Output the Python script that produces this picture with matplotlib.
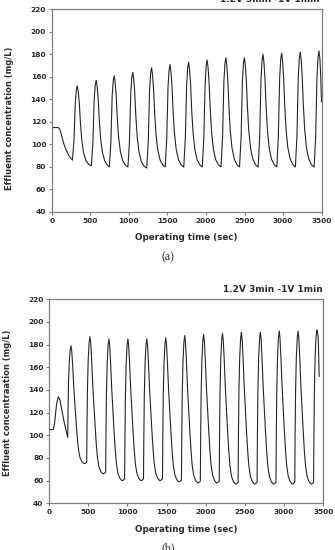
import matplotlib
matplotlib.use("Agg")
import matplotlib.pyplot as plt
from matplotlib.ticker import MultipleLocator

# ---------------- data ----------------
title = "1.2V 3min -1V 1min"
xlabel = "Operating time (sec)"
ylabel_a = "Effluemt concentration (mg/L)"
ylabel_b = "Effluent concentraation (mg/L)"
xticks = [0, 500, 1000, 1500, 2000, 2500, 3000, 3500]
yticks = [40, 60, 80, 100, 120, 140, 160, 180, 200, 220]

time_a = [0, 85, 100, 115, 135, 160, 185, 215, 245,
          269, 289, 306, 320, 332, 344, 358, 372, 389, 412, 442, 477,
          514, 534, 551, 565, 577, 589, 603, 617, 634, 657, 687, 722,
          747, 767, 784, 798, 810, 822, 836, 850, 867, 890, 920, 955,
          988, 1008, 1025, 1039, 1051, 1063, 1077, 1091, 1108, 1131, 1161, 1196,
          1232, 1252, 1269, 1283, 1295, 1307, 1321, 1335, 1352, 1375, 1405, 1440,
          1471, 1491, 1508, 1522, 1534, 1546, 1560, 1574, 1591, 1614, 1644, 1679,
          1712, 1732, 1749, 1763, 1775, 1787, 1801, 1815, 1832, 1855, 1885, 1920,
          1952, 1972, 1989, 2003, 2015, 2027, 2041, 2055, 2072, 2095, 2125, 2160,
          2195, 2215, 2232, 2246, 2258, 2270, 2284, 2298, 2315, 2338, 2368, 2403,
          2435, 2455, 2472, 2486, 2498, 2510, 2524, 2538, 2555, 2578, 2608, 2643,
          2676, 2696, 2713, 2727, 2739, 2751, 2765, 2779, 2796, 2819, 2849, 2884,
          2918, 2938, 2955, 2969, 2981, 2993, 3007, 3021, 3038, 3061, 3091, 3126,
          3159, 3179, 3196, 3210, 3222, 3234, 3248, 3262, 3279, 3302, 3332, 3367,
          3402, 3422, 3439, 3453, 3465, 3477, 3488, 3497]
conc_a = [115, 115, 114, 111.5, 106, 100, 95.5, 91, 88,
          86, 103.8, 137.5, 148.7, 152, 147.0, 136.4, 119.3, 104.4, 93.1, 86.0, 82.4,
          81, 101.5, 140.3, 153.2, 157, 151.6, 140.1, 121.6, 105.4, 93.1, 85.4, 81.5,
          80, 101.9, 143.2, 157.0, 161, 155.3, 143.2, 123.7, 106.7, 93.8, 85.7, 81.6,
          80, 102.7, 145.5, 159.8, 164, 158.1, 145.3, 124.9, 107.1, 93.5, 85.0, 80.7,
          79, 103.0, 148.4, 163.6, 168, 161.8, 148.6, 127.5, 109.0, 95.0, 86.2, 81.8,
          80, 104.6, 151.0, 166.5, 171, 164.6, 151.0, 129.1, 110.0, 95.5, 86.4, 81.8,
          80, 105.1, 152.5, 168.4, 173, 166.5, 152.5, 130.2, 110.7, 95.8, 86.5, 81.9,
          80, 105.7, 154.1, 170.3, 175, 168.4, 154.1, 131.3, 111.4, 96.2, 86.7, 81.9,
          80, 106.2, 155.7, 172.2, 177, 170.2, 155.7, 132.4, 112.0, 96.5, 86.8, 81.9,
          80, 106.2, 155.7, 172.2, 177, 170.2, 155.7, 132.4, 112.0, 96.5, 86.8, 81.9,
          80, 107.0, 158.0, 175.0, 180, 173.0, 158.0, 134.0, 113.0, 97.0, 87.0, 82.0,
          80, 107.3, 158.8, 176.0, 181, 173.9, 158.8, 134.5, 113.3, 97.2, 87.1, 82.0,
          80, 107.5, 159.6, 176.9, 182, 174.9, 159.6, 135.1, 113.7, 97.3, 87.1, 82.0,
          80, 107.8, 160.3, 177.9, 183, 176, 160, 138]

time_b = [0, 55, 70, 85, 100, 120, 140, 165, 195, 225,
          239, 243, 249, 259, 271, 281, 291, 303, 316, 331, 346, 361, 376, 396, 421, 446, 461,
          481, 485, 491, 501, 513, 523, 533, 545, 558, 573, 588, 603, 618, 638, 663, 688, 703,
          723, 727, 733, 743, 755, 765, 775, 787, 800, 815, 830, 845, 860, 880, 905, 930, 945,
          965, 969, 975, 985, 997, 1007, 1017, 1029, 1042, 1057, 1072, 1087, 1102, 1122, 1147, 1172, 1187,
          1206, 1210, 1216, 1226, 1238, 1248, 1258, 1270, 1283, 1298, 1313, 1328, 1343, 1363, 1388, 1413, 1428,
          1448, 1452, 1458, 1468, 1480, 1490, 1500, 1512, 1525, 1540, 1555, 1570, 1585, 1605, 1630, 1655, 1670,
          1690, 1694, 1700, 1710, 1722, 1732, 1742, 1754, 1767, 1782, 1797, 1812, 1827, 1847, 1872, 1897, 1912,
          1931, 1935, 1941, 1951, 1963, 1973, 1983, 1995, 2008, 2023, 2038, 2053, 2068, 2088, 2113, 2138, 2153,
          2172, 2176, 2182, 2192, 2204, 2214, 2224, 2236, 2249, 2264, 2279, 2294, 2309, 2329, 2354, 2379, 2394,
          2413, 2417, 2423, 2433, 2445, 2455, 2465, 2477, 2490, 2505, 2520, 2535, 2550, 2570, 2595, 2620, 2635,
          2655, 2659, 2665, 2675, 2687, 2697, 2707, 2719, 2732, 2747, 2762, 2777, 2792, 2812, 2837, 2862, 2877,
          2896, 2900, 2906, 2916, 2928, 2938, 2948, 2960, 2973, 2988, 3003, 3018, 3033, 3053, 3078, 3103, 3118,
          3136, 3140, 3146, 3156, 3168, 3178, 3188, 3200, 3213, 3228, 3243, 3258, 3273, 3293, 3318, 3343, 3358,
          3376, 3380, 3386, 3396, 3408, 3418, 3425, 3435, 3441, 3447]
conc_b = [105, 105, 110, 120, 129, 134, 131, 122, 111, 102,
          98, 122.3, 146.6, 165.2, 175.8, 179, 173.8, 160.3, 142.6, 127, 111.4, 97.9, 87.5, 80.2, 76.6, 75, 75.3,
          76.5, 108.6, 142.2, 168, 182.5, 187, 181, 165.2, 144.7, 126.5, 108.4, 92.6, 80.5, 72.1, 67.8, 66, 66.3,
          67.5, 101.7, 137.4, 164.8, 180.2, 185, 178.8, 162.5, 141.3, 122.5, 103.8, 87.5, 75, 66.3, 61.9, 60, 60.3,
          61.5, 97.5, 135, 163.8, 180, 185, 178.8, 162.5, 141.3, 122.5, 103.8, 87.5, 75, 66.3, 61.9, 60, 60.3,
          61.5, 97.5, 135, 163.8, 180, 185, 178.8, 162.5, 141.3, 122.5, 103.8, 87.5, 75, 66.3, 61.9, 60, 60.3,
          61.5, 97.8, 135.6, 164.6, 181, 186, 179.7, 163.1, 141.6, 122.5, 103.5, 86.9, 74.2, 65.4, 60.9, 59, 59.3,
          60.5, 97.7, 136.4, 166, 182.8, 188, 181.5, 164.6, 142.5, 123, 103.5, 86.6, 73.6, 64.5, 60, 58, 58.3,
          59.5, 97.3, 136.6, 166.7, 183.8, 189, 182.5, 165.4, 143.2, 123.5, 103.9, 86.8, 73.7, 64.6, 60, 58, 58.3,
          59.5, 97.6, 137.2, 167.6, 184.7, 190, 183.4, 166.1, 143.5, 123.5, 103.6, 86.3, 73, 63.7, 59, 57, 57.3,
          58.5, 97.2, 137.4, 168.2, 185.6, 191, 184.3, 166.9, 144.1, 124, 103.9, 86.5, 73.1, 63.7, 59, 57, 57.3,
          58.5, 97.2, 137.4, 168.2, 185.6, 191, 184.3, 166.9, 144.1, 124, 103.9, 86.5, 73.1, 63.7, 59, 57, 57.3,
          58.5, 97.5, 138, 169, 186.6, 192, 185.3, 167.7, 144.8, 124.5, 104.3, 86.7, 73.2, 63.8, 59, 57, 57.3,
          58.5, 97.5, 138, 169, 186.6, 192, 185.3, 167.7, 144.8, 124.5, 104.3, 86.7, 73.2, 63.8, 59, 57, 57.3,
          58.5, 97.8, 138.6, 169.9, 187.6, 193, 191, 187, 172, 152]

# ---------------- figure ----------------
W, H = 335, 550
fig = plt.figure(figsize=(W / 100, H / 100), dpi=100)

spine_col = "#7f7f7f"
text_col = "#2b2b2b"
line_col = "#262626"
bold = dict(fontweight="bold", color=text_col, family="DejaVu Sans")


def px_axes(l, t, r, b):
    return fig.add_axes([l / W, 1 - b / H, (r - l) / W, (b - t) / H])


def style(ax):
    ax.set_xlim(0, 3500)
    ax.set_ylim(40, 220)
    ax.set_xticks(xticks)
    ax.set_yticks(yticks)
    for s in ax.spines.values():
        s.set_color(spine_col)
        s.set_linewidth(0.9)
    ax.tick_params(axis="both", direction="out", length=2.5, width=0.8,
                   color=spine_col, labelsize=5.3, pad=1.5, labelcolor=text_col)
    ax.tick_params(top=False, right=False)
    for lab in ax.get_xticklabels() + ax.get_yticklabels():
        lab.set_fontweight("bold")


# panel (a)
ax1 = px_axes(51.7, 9.3, 321.7, 212)
ax1.plot(time_a, conc_a, color=line_col, lw=0.8)
style(ax1)
fig.text(320 / W, 1 - (-0.7) / H, title, ha="right", va="center", fontsize=6.5, **bold)
fig.text(186.7 / W, 1 - 238 / H, xlabel, ha="center", va="center", fontsize=6.3, **bold)
fig.text(10 / W, 1 - 118 / H, ylabel_a, ha="center", va="center", rotation=90, fontsize=6.0, **bold)
fig.text(168 / W, 1 - 257 / H, "(a)", ha="center", va="center", fontsize=8.5, family="Liberation Serif", color=text_col)

# panel (b)
ax2 = px_axes(49, 299.3, 323.3, 503.3)
ax2.plot(time_b, conc_b, color=line_col, lw=0.8)
style(ax2)
fig.text(322.5 / W, 1 - 289.3 / H, title, ha="right", va="center", fontsize=6.5, **bold)
fig.text(186 / W, 1 - 529 / H, xlabel, ha="center", va="center", fontsize=6.3, **bold)
fig.text(8 / W, 1 - 403 / H, ylabel_b, ha="center", va="center", rotation=90, fontsize=6.0, **bold)
fig.text(168 / W, 1 - 548 / H, "(b)", ha="center", va="center", fontsize=8.5, family="Liberation Serif", color=text_col)

fig.savefig("out.png", dpi=100)
